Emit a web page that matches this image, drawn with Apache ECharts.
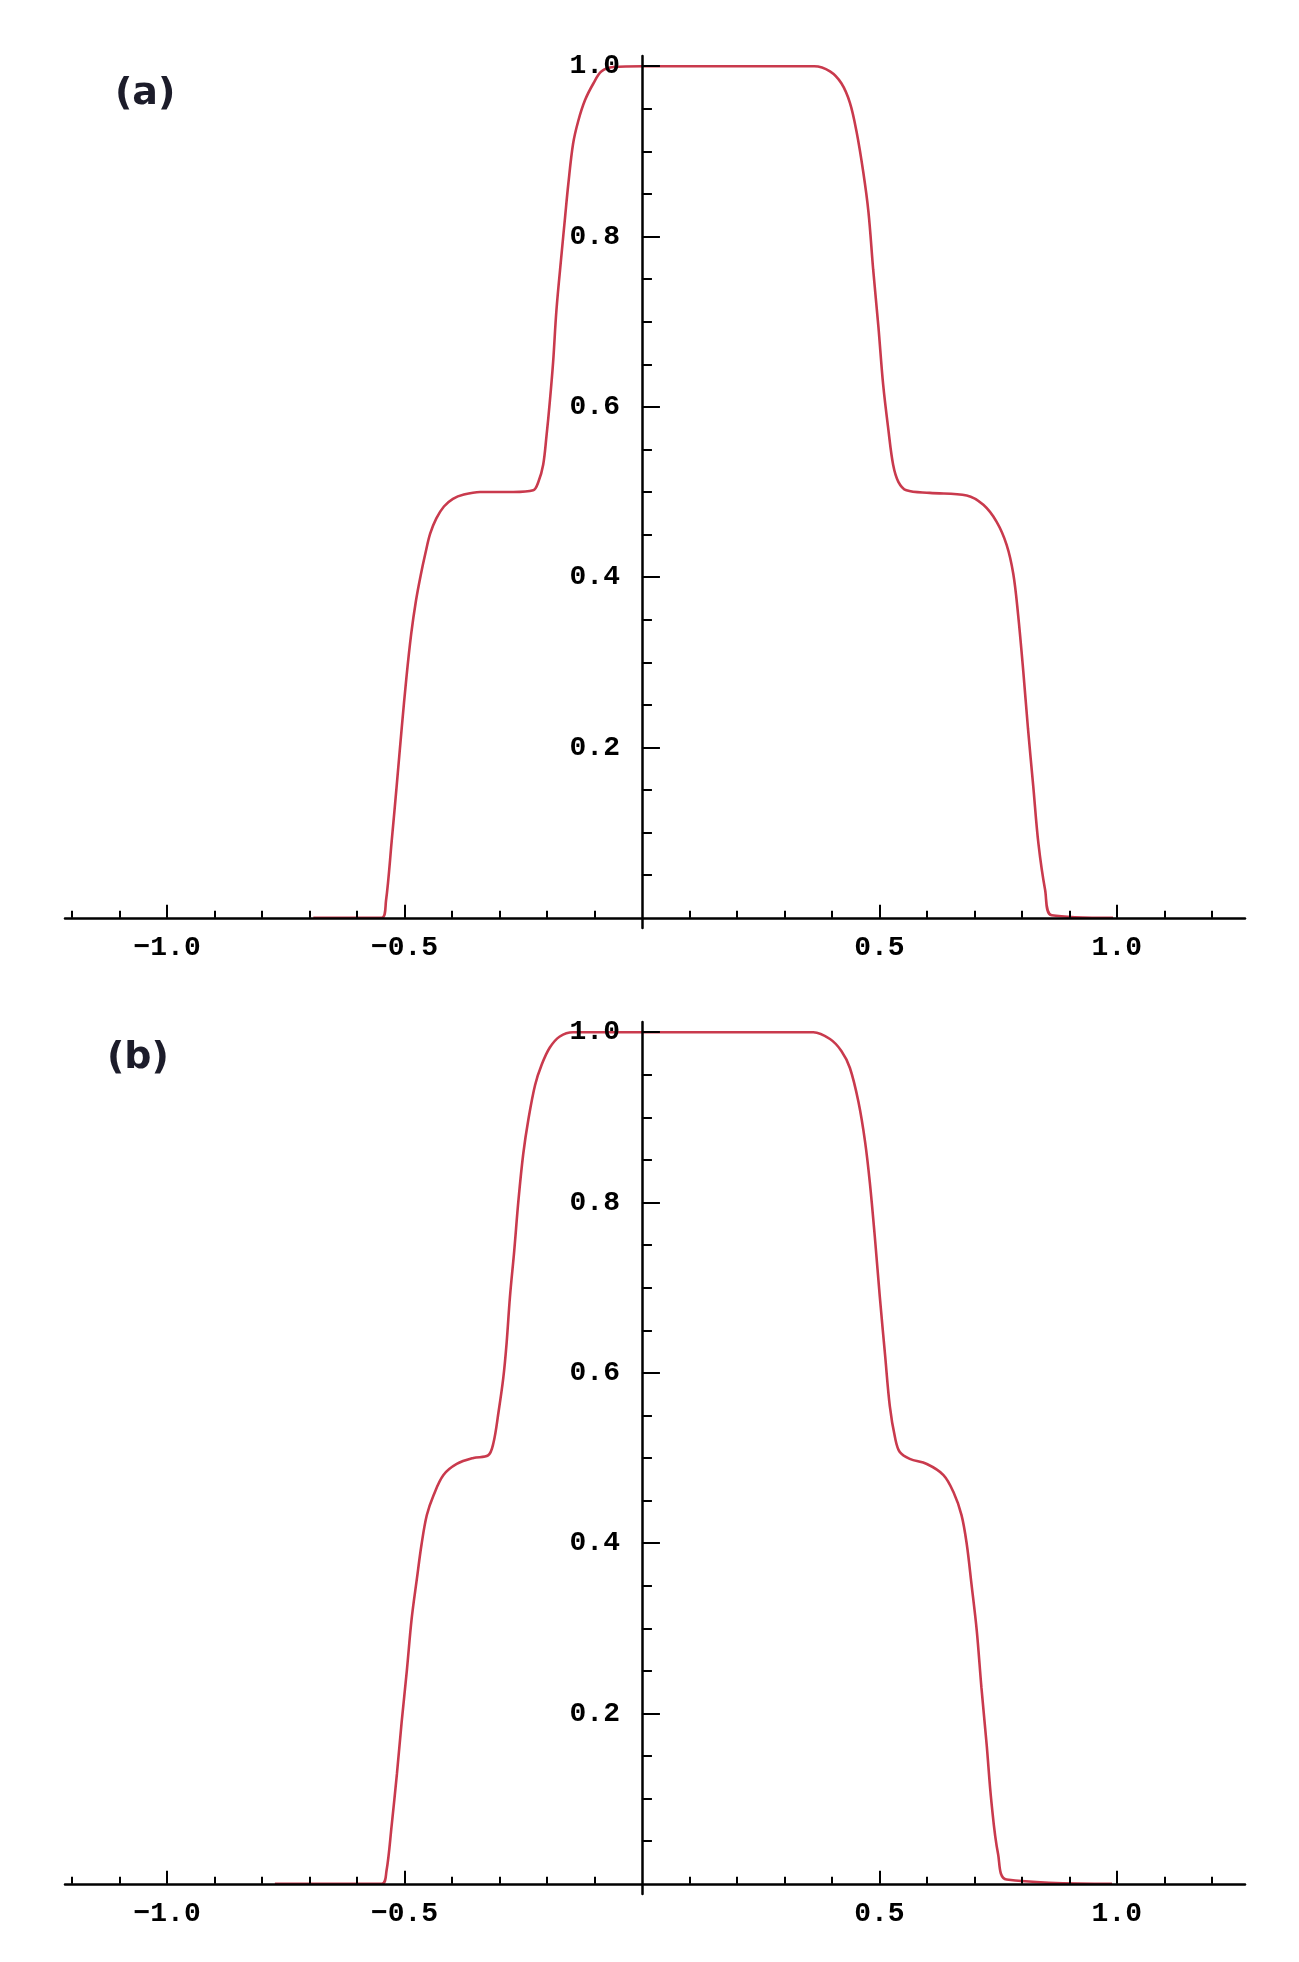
<!DOCTYPE html>
<html><head><meta charset="utf-8">
<script src="https://cdn.jsdelivr.net/npm/echarts@6/dist/echarts.min.js"></script>
<style>html,body{margin:0;padding:0;background:#fff}#c{width:1299px;height:1962px}</style>
</head><body><div id="c"></div>
<script>
const panelLabels = ['(a)', '(b)'];
const xTickValues = [-1.0, -0.5, 0.5, 1.0];
const yTickValues = [0.2, 0.4, 0.6, 0.8, 1.0];

const aX = [-0.692, -0.548, -0.539, -0.527, -0.516, -0.506, -0.496, -0.486, -0.476, -0.466, -0.456, -0.446, -0.433, -0.417, -0.398, -0.375, -0.341, -0.271, -0.229, -0.218, -0.208, -0.201, -0.194, -0.187, -0.180, -0.169, -0.162, -0.155, -0.145, -0.134, -0.120, -0.102, -0.085, -0.060, 0.0,
            0.363, 0.396, 0.420, 0.438, 0.452, 0.466, 0.477, 0.487, 0.498, 0.508, 0.519, 0.529, 0.540, 0.557, 0.606, 0.684, 0.719, 0.747, 0.768, 0.782, 0.792, 0.803, 0.813, 0.824, 0.835, 0.849, 0.863, 0.992];
const aY = [0, 0, 0.02, 0.09, 0.158, 0.222, 0.282, 0.333, 0.372, 0.402, 0.428, 0.451, 0.469, 0.483, 0.492, 0.497, 0.5, 0.5, 0.502, 0.512, 0.532, 0.566, 0.606, 0.653, 0.714, 0.781, 0.822, 0.862, 0.909, 0.936, 0.960, 0.980, 0.994, 0.999, 1.0,
            1.0, 0.994, 0.980, 0.957, 0.923, 0.876, 0.829, 0.761, 0.694, 0.626, 0.573, 0.532, 0.512, 0.502, 0.499, 0.496, 0.485, 0.465, 0.438, 0.404, 0.357, 0.29, 0.222, 0.155, 0.087, 0.033, 0.003, 0];

const bX = [-0.773, -0.548, -0.538, -0.527, -0.516, -0.506, -0.495, -0.485, -0.474, -0.464, -0.453, -0.439, -0.418, -0.390, -0.355, -0.324, -0.313, -0.302, -0.292, -0.285, -0.278, -0.269, -0.260, -0.250, -0.239, -0.225, -0.211, -0.194, -0.173, -0.145, 0.0,
            0.361, 0.396, 0.420, 0.438, 0.456, 0.470, 0.480, 0.491, 0.501, 0.512, 0.522, 0.533, 0.543, 0.564, 0.600, 0.635, 0.656, 0.673, 0.684, 0.694, 0.705, 0.715, 0.726, 0.736, 0.750, 0.768, 0.99];
const bY = [0, 0, 0.015, 0.069, 0.129, 0.19, 0.251, 0.311, 0.358, 0.399, 0.433, 0.456, 0.48, 0.493, 0.5, 0.503, 0.517, 0.554, 0.594, 0.635, 0.689, 0.743, 0.803, 0.857, 0.898, 0.938, 0.962, 0.982, 0.995, 1.0, 1.0,
            1.0, 0.992, 0.978, 0.958, 0.918, 0.871, 0.823, 0.756, 0.689, 0.621, 0.561, 0.524, 0.507, 0.499, 0.493, 0.48, 0.46, 0.433, 0.399, 0.352, 0.298, 0.23, 0.163, 0.096, 0.035, 0.005, 0];

const zip = (xs, ys) => xs.map((x, i) => [x, ys[i]]);
const fmtX = v => (v < 0 ? '\u2212' : '') + Math.abs(v).toFixed(1);
const fmtY = v => Number(v).toFixed(1);
const labelFont = {color: '#000', fontFamily: 'Liberation Mono', fontSize: 28, fontWeight: 'bold'};

// Plot geometry (layout only)
const GRID_LEFT = 65, GRID_WIDTH = 1180, GRID_H = 872;
const X_MIN = -1.215, X_MAX = 1.27, Y_MIN = -0.012, Y_MAX = 1.012;
const yAxisShift = -GRID_WIDTH * (0 - X_MIN) / (X_MAX - X_MIN);   // move y axis to x = 0
const xAxisShift = -GRID_H * (0 - Y_MIN) / (Y_MAX - Y_MIN);       // move x axis to y = 0

function xAxisCfg(gi) {
  return {
    type: 'value', gridIndex: gi, min: X_MIN, max: X_MAX, splitNumber: 5, z: 5,
    position: 'bottom', offset: xAxisShift,
    axisLine: {show: true, onZero: false, lineStyle: {color: '#000', width: 2.5}},
    axisTick: {show: true, inside: true, length: 13, customValues: xTickValues, lineStyle: {color: '#000', width: 2}},
    minorTick: {show: true, splitNumber: 5, length: 7, lineStyle: {color: '#000', width: 2}},
    axisLabel: Object.assign({show: true, customValues: xTickValues, formatter: fmtX, margin: 16}, labelFont),
    splitLine: {show: false}, minorSplitLine: {show: false}
  };
}
function yAxisCfg(gi) {
  return {
    type: 'value', gridIndex: gi, min: Y_MIN, max: Y_MAX, splitNumber: 5, z: 5,
    position: 'left', offset: yAxisShift,
    axisLine: {show: true, onZero: false, lineStyle: {color: '#000', width: 2.5}},
    axisTick: {show: true, inside: true, length: 18, customValues: yTickValues, lineStyle: {color: '#000', width: 2}},
    minorTick: {show: true, splitNumber: 4, length: 10, lineStyle: {color: '#000', width: 2}},
    axisLabel: Object.assign({show: true, customValues: yTickValues, formatter: fmtY, margin: 22}, labelFont),
    splitLine: {show: false}, minorSplitLine: {show: false}
  };
}
function seriesCfg(gi, xs, ys) {
  return {
    type: 'line', xAxisIndex: gi, yAxisIndex: gi, data: zip(xs, ys),
    showSymbol: false, smooth: 0.35, z: 2, silent: true,
    lineStyle: {color: '#c93a4d', width: 2.6}
  };
}

const chart = echarts.init(document.getElementById('c'), null, {renderer: 'canvas'});
chart.setOption({
  backgroundColor: '#fff',
  animation: false,
  title: [
    {text: panelLabels[0], left: 115, top: 72, padding: 0, textStyle: {fontFamily: 'DejaVu Sans', fontWeight: 'bold', fontSize: 38, color: '#1c1c2a', lineHeight: 44}},
    {text: panelLabels[1], left: 107, top: 1036, padding: 0, textStyle: {fontFamily: 'DejaVu Sans', fontWeight: 'bold', fontSize: 38, color: '#1c1c2a', lineHeight: 44}}
  ],
  grid: [
    {left: GRID_LEFT, width: GRID_WIDTH, top: 56, height: GRID_H},
    {left: GRID_LEFT, width: GRID_WIDTH, top: 1022, height: GRID_H}
  ],
  xAxis: [xAxisCfg(0), xAxisCfg(1)],
  yAxis: [yAxisCfg(0), yAxisCfg(1)],
  series: [seriesCfg(0, aX, aY), seriesCfg(1, bX, bY)]
});
</script></body></html>
